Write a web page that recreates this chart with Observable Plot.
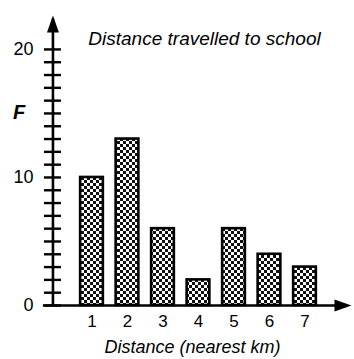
<!DOCTYPE html>
<html>
<head>
<meta charset="utf-8">
<script src="https://cdn.jsdelivr.net/npm/d3@7"></script>
<script src="https://cdn.jsdelivr.net/npm/@observablehq/plot@0.6"></script>
<style>
  html, body { margin: 0; padding: 0; background: #fff; }
  #chart svg { display: block; }
</style>
</head>
<body>
<div id="chart"></div>
<script>
const distances = [1, 2, 3, 4, 5, 6, 7];
const frequencies = [10, 13, 6, 2, 6, 4, 3];
const yMinorTicks = d3.range(0, 21);
const yLabelTicks = [0, 10, 20];
const titleText = "Distance travelled to school";
const xLabelText = "Distance (nearest km)";
const yLabelText = "F";

const data = distances.map((km, i) => ({km, f: frequencies[i]}));
const xMax = 8.31, yMax = 22.65, axisX = -0.1;

const arrowHead = {
  draw(context) {
    context.moveTo(0, 0);
    context.lineTo(6, 17);
    context.lineTo(-6, 17);
    context.closePath();
  }
};

const font = "Arial, 'Liberation Sans', Helvetica, sans-serif";

const chart = Plot.plot({
  width: 354,
  height: 359,
  marginLeft: 56,
  marginRight: 3,
  marginTop: 15,
  marginBottom: 54,
  style: {fontFamily: font, color: "#000", background: "#fff"},
  x: {domain: [0, xMax], axis: null},
  y: {domain: [0, yMax], axis: null},
  marks: [
    Plot.rectY(data, {
      x1: d => d.km - 0.32, x2: d => d.km + 0.32, y: "f",
      fill: "url(#checker)", stroke: "#000", strokeWidth: 2.6
    }),
    // y axis line
    Plot.ruleX([axisX], {y1: 0, y2: yMax - 0.3, stroke: "#000", strokeWidth: 2.6}),
    // x axis line
    Plot.ruleY([0], {x1: -0.37, x2: xMax - 0.3, stroke: "#000", strokeWidth: 2.6}),
    // arrowheads
    Plot.dot([{x: axisX, y: yMax}], {x: "x", y: "y", symbol: arrowHead, fill: "#000", stroke: "none"}),
    Plot.dot([{x: xMax, y: 0}], {x: "x", y: "y", symbol: arrowHead, rotate: 90, fill: "#000", stroke: "none"}),
    // crossing minor ticks
    Plot.ruleY(yMinorTicks, {x1: axisX - 0.24, x2: axisX + 0.24, stroke: "#000", strokeWidth: 2.4}),
    // y tick labels
    Plot.text(yLabelTicks, {
      x: 0, y: d => d, text: d => String(d), dx: -23, textAnchor: "end",
      fontSize: 18, fill: "#000"
    }),
    // x tick labels
    Plot.text(distances, {
      x: d => d, y: 0, text: d => String(d), dy: 16, fontSize: 17, fill: "#000"
    }),
    // F label
    Plot.text([yLabelText], {
      frameAnchor: "top-left", lineAnchor: "middle", dx: -37.5, dy: 97.5, fontSize: 20,
      fontWeight: "bold", fontStyle: "italic", fill: "#000", textAnchor: "middle"
    }),
    // title
    Plot.text([titleText], {
      frameAnchor: "top", lineAnchor: "middle", dx: 0.5, dy: 23.5, fontSize: 19,
      fontStyle: "italic", fill: "#000"
    }),
    // x label
    Plot.text([xLabelText], {
      frameAnchor: "bottom", lineAnchor: "middle", dx: -11.5, dy: 41.5, fontSize: 18,
      fontStyle: "italic", fill: "#000"
    })
  ]
});

// checker pattern definition
const ns = "http://www.w3.org/2000/svg";
const defs = document.createElementNS(ns, "defs");
const pat = document.createElementNS(ns, "pattern");
pat.setAttribute("id", "checker");
pat.setAttribute("patternUnits", "userSpaceOnUse");
pat.setAttribute("width", "6");
pat.setAttribute("height", "6");
const bg = document.createElementNS(ns, "rect");
bg.setAttribute("width", "6"); bg.setAttribute("height", "6"); bg.setAttribute("fill", "#fff");
pat.appendChild(bg);
for (const [px, py] of [[0, 0], [3, 3]]) {
  const r = document.createElementNS(ns, "rect");
  r.setAttribute("x", px); r.setAttribute("y", py);
  r.setAttribute("width", "3"); r.setAttribute("height", "3");
  r.setAttribute("fill", "#111");
  pat.appendChild(r);
}
defs.appendChild(pat);
chart.insertBefore(defs, chart.firstChild);

document.getElementById("chart").appendChild(chart);
</script>
</body>
</html>
